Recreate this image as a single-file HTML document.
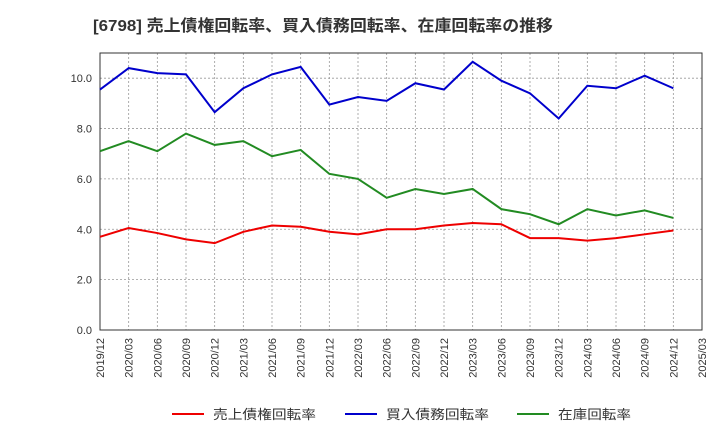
<!DOCTYPE html>
<html><head><meta charset="utf-8"><style>
body{margin:0;background:#fff;font-family:"Liberation Sans","Noto Sans CJK JP",sans-serif}
svg text{font-family:"Liberation Sans","Noto Sans CJK JP",sans-serif}
</style></head><body>
<svg id="c" width="720" height="440">
<text x="93" y="31" font-size="16" font-weight="bold" fill="#333" textLength="460" lengthAdjust="spacingAndGlyphs">[6798]  売上債権回転率、買入債務回転率、在庫回転率の推移</text>
<g id="grid"></g><g id="axes"></g><g id="series"></g>
<g>
<line x1="172" y1="414" x2="204" y2="414" stroke="#e00" stroke-width="2"/>
<text x="213" y="419" font-size="13" fill="#333" textLength="103" lengthAdjust="spacingAndGlyphs">売上債権回転率</text>
<line x1="345" y1="414" x2="377" y2="414" stroke="#00c" stroke-width="2"/>
<text x="386" y="419" font-size="13" fill="#333" textLength="103" lengthAdjust="spacingAndGlyphs">買入債務回転率</text>
<line x1="517" y1="414" x2="549" y2="414" stroke="#228b22" stroke-width="2"/>
<text x="558" y="419" font-size="13" fill="#333" textLength="73" lengthAdjust="spacingAndGlyphs">在庫回転率</text>
</g>
</svg>
<script>
const categories=["2019/12","2020/03","2020/06","2020/09","2020/12","2021/03","2021/06","2021/09","2021/12","2022/03","2022/06","2022/09","2022/12","2023/03","2023/06","2023/09","2023/12","2024/03","2024/06","2024/09","2024/12","2025/03"];
const yTicks=[0,2,4,6,8,10];
const receivables=[3.7,4.05,3.85,3.6,3.45,3.9,4.15,4.1,3.9,3.8,4.0,4.0,4.15,4.25,4.2,3.65,3.65,3.55,3.65,3.8,3.95];
const payables=[9.55,10.4,10.2,10.15,8.65,9.6,10.15,10.45,8.95,9.25,9.1,9.8,9.55,10.65,9.9,9.4,8.4,9.7,9.6,10.1,9.6];
const inventory=[7.1,7.5,7.1,7.8,7.35,7.5,6.9,7.15,6.2,6.0,5.25,5.6,5.4,5.6,4.8,4.6,4.2,4.8,4.55,4.75,4.45];
const L=100,R=702,T=53,B=330,YMAX=11;
const x=i=>L+i*(R-L)/(categories.length-1);
const y=v=>B-v*(B-T)/YMAX;
const NS="http://www.w3.org/2000/svg";
function mk(p,t,a){const e=document.createElementNS(NS,t);for(const k in a)e.setAttribute(k,a[k]);p.appendChild(e);return e;}
const g=document.getElementById('grid'),ax=document.getElementById('axes'),s=document.getElementById('series');
categories.forEach((c,i)=>{
 const l=mk(g,'line',{x1:x(i),x2:x(i),y1:T,y2:B,stroke:'#999','stroke-dasharray':'2,2','stroke-width':0.8});
 
 
 const t=mk(ax,'text',{x:0,y:0,'font-size':11,fill:'#333','text-anchor':'end',transform:`translate(${x(i)+4},${B+8}) rotate(-90)`});
 t.textContent=c;
 
 
});
yTicks.forEach(v=>{
 const l=mk(g,'line',{x1:L,x2:R,y1:y(v),y2:y(v),stroke:'#999','stroke-dasharray':'2,2','stroke-width':0.8});
 
 
 const t=mk(ax,'text',{x:L-8,y:y(v)+4,'font-size':11,fill:'#333','text-anchor':'end'});
 t.textContent=v.toFixed(1);
 
 
});
const fr=mk(ax,'rect',{x:L,y:T,width:R-L,height:B-T,fill:'none',stroke:'#333','stroke-width':1});


[[receivables,'#e00','receivables-line'],[payables,'#00c','payables-line'],[inventory,'#228b22','inventory-line']].forEach(([d,c,n])=>{
 const p=mk(s,'polyline',{points:d.map((v,i)=>x(i)+','+y(v)).join(' '),fill:'none',stroke:c,'stroke-width':2});
 
 
});
</script>
</body></html>
